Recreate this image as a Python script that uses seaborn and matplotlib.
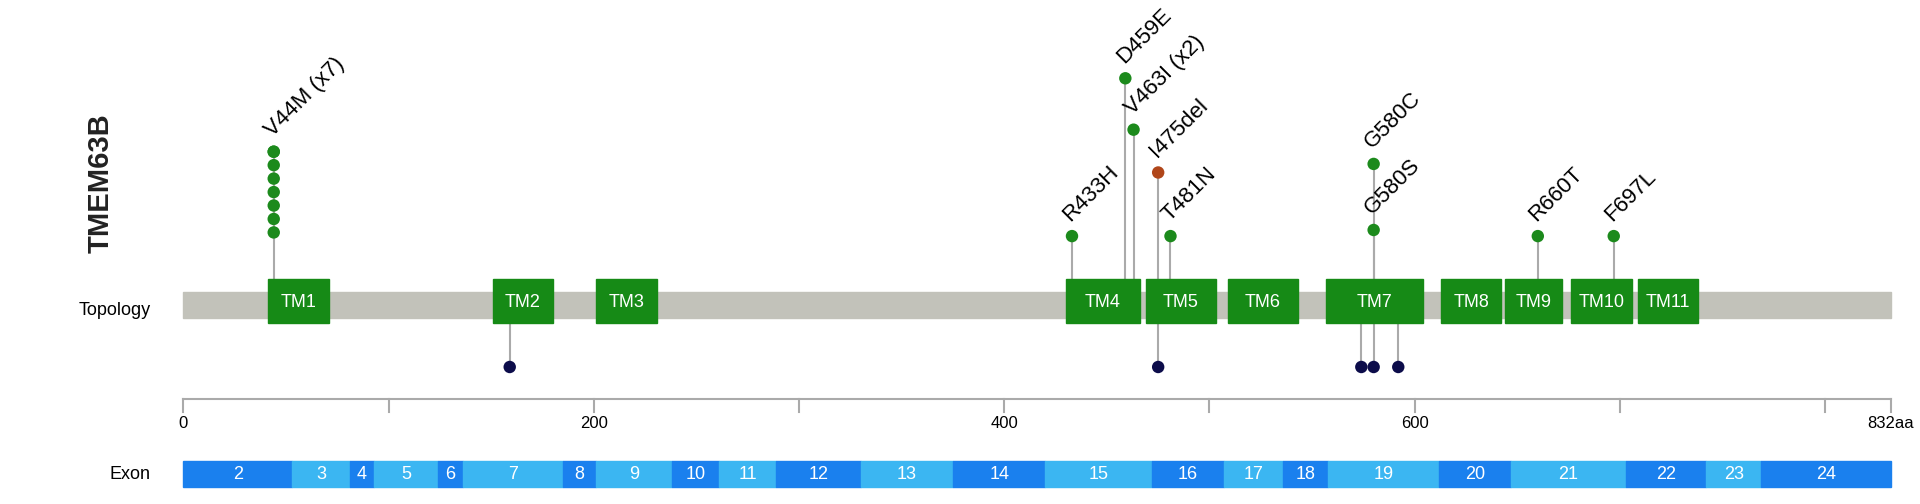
import matplotlib
matplotlib.use("Agg")
import matplotlib.pyplot as plt
import seaborn as sns
import pandas as pd
from matplotlib.patches import Rectangle

plt.rcParams["font.family"] = "Liberation Sans"

LENGTH = 832
tm_names = ["TM1","TM2","TM3","TM4","TM5","TM6","TM7","TM8","TM9","TM10","TM11"]
tm_start = [41,151,201,430,469,509,557,613,644,676,709]
tm_end = [71,180,231,466,503,543,604,642,672,706,738]

exon_names = [str(i) for i in range(2,25)]
exon_bounds = [0,53,81,93,124,136,185,201,238,261,289,330,375,420,472,507,536,558,612,647,703,742,769,832]

mut_labels = ["V44M (x7)","R433H","D459E","V463I (x2)","I475del","T481N","G580C","G580S","R660T","F697L"]
mut_pos = [44,433,459,463,475,481,580,580,660,697]
mut_height = [124,193,64,106,141,193,134,188,193,193]
mut_type = ["missense","missense","missense","missense","inframe","missense","missense","missense","missense","missense"]
v44_stack = [124,135,146,157,168,179,190]

low_pos = [159,475,574,580,592]

ticks = [0,100,200,300,400,500,600,700,800,832]
tick_labels = ["0","","200","","400","","600","","","832aa"]

W, H = 1570, 412
px = 1.678
def xp(p):
    return (p - 150) / px

fig = plt.figure(figsize=(19.2,5.04), dpi=100)
ax = fig.add_axes([0,0,1,1])
ax.set_xlim(xp(0), xp(W))
ax.set_ylim(H, 0)
ax.axis("off")

# topology bar
ax.add_patch(Rectangle((0,239), LENGTH, 21, color="#c2c2ba", zorder=1))
ax.text(xp(123), 254, "Topology", ha="right", va="center", fontsize=13)
for n,s,e in zip(tm_names, tm_start, tm_end):
    ax.add_patch(Rectangle((s,228), e-s, 36, color="#168a16", zorder=3))
    ax.text((s+e)/2, 247, n, ha="center", va="center", color="white", fontsize=13, zorder=4)

# stems
for p,h in zip(mut_pos, mut_height):
    ax.plot([p,p],[h,228], color="#aaaaaa", lw=1.5, zorder=2)
for p in low_pos:
    ax.plot([p,p],[264,300], color="#aaaaaa", lw=1.5, zorder=2)

dots = pd.DataFrame({"pos": mut_pos + [44]*len(v44_stack),
                     "y": mut_height + v44_stack,
                     "type": mut_type + ["missense"]*len(v44_stack)})
sns.scatterplot(data=dots, x="pos", y="y", hue="type",
                palette={"missense":"#1c8a1c","inframe":"#b0461a"},
                s=80, edgecolor="none", legend=False, ax=ax, zorder=5)
low = pd.DataFrame({"pos": low_pos, "y": [300]*len(low_pos)})
sns.scatterplot(data=low, x="pos", y="y", color="#0c0c4a", s=80, edgecolor="none",
                legend=False, ax=ax, zorder=5)

for lab,p,h in zip(mut_labels, mut_pos, mut_height):
    ax.text(p+1, h-9, lab, rotation=45, ha="left", va="bottom", fontsize=16,
            rotation_mode="anchor", zorder=6)

ax.text(xp(82), 150, "TMEM63B", rotation=90, ha="center", va="center", fontsize=21,
        fontweight="bold", color="#222222")

# axis
ax.plot([0,LENGTH],[326,326], color="#aaaaaa", lw=1.5)
for t,l in zip(ticks, tick_labels):
    ax.plot([t,t],[326,337], color="#aaaaaa", lw=1.5)
    if l:
        ax.text(t, 346, l, ha="center", va="center", fontsize=12)

# exons
for i,n in enumerate(exon_names):
    s, e = exon_bounds[i], exon_bounds[i+1]
    c = "#1a80ee" if i % 2 == 0 else "#3bb6f2"
    ax.add_patch(Rectangle((s,377), e-s, 21, color=c, zorder=2))
    ax.text((s+e)/2, 387.5, n, ha="center", va="center", color="white", fontsize=13, zorder=3)
ax.text(xp(123), 387.5, "Exon", ha="right", va="center", fontsize=13)

fig.savefig("out.png", dpi=100)
